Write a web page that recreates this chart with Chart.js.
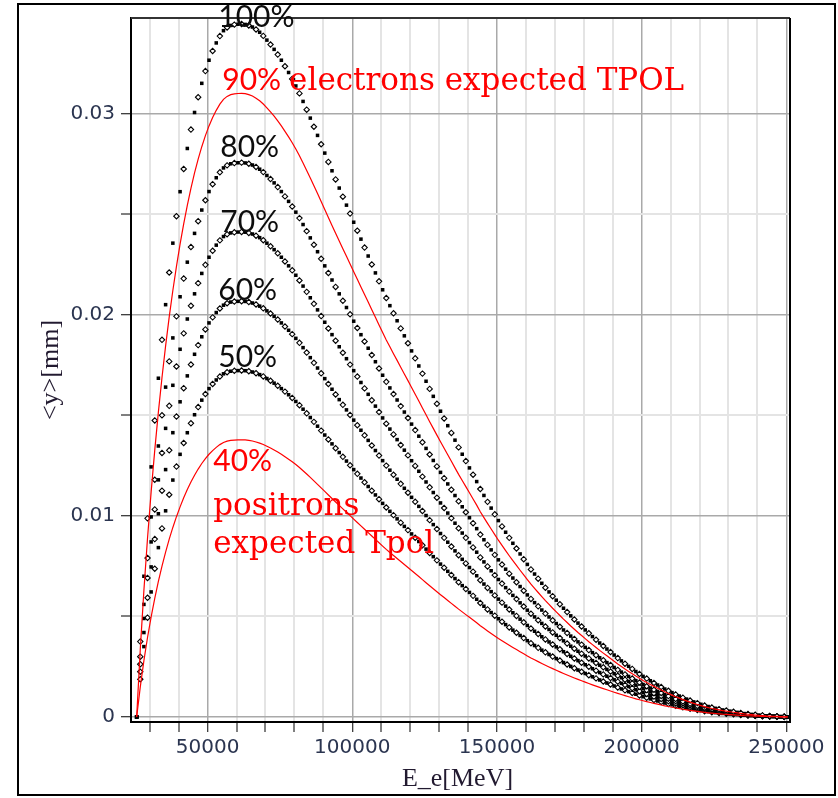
<!DOCTYPE html>
<html>
<head>
<meta charset="utf-8">
<title>Mean deflection vs beam energy</title>
<script src="https://cdn.jsdelivr.net/npm/chart.js@4.4.1/dist/chart.umd.min.js"></script>
<style>
  html, body { margin: 0; padding: 0; background: #fff; }
  #wrap { position: relative; width: 838px; height: 798px; }
  #c { position: absolute; left: 0; top: 0; }
  #frame { position: absolute; left: 17px; top: 3px; width: 819px; height: 793px;
           box-sizing: border-box; border: 2px solid #000; pointer-events: none; }
</style>
</head>
<body>
<div id="wrap">
  <canvas id="c" width="838" height="798"></canvas>
  <div id="frame"></div>
</div>
<script>
// Beam energy E_e [MeV] at each sample
const energies = [
  25500, 26750, 28000, 29250, 30500, 31750, 33000, 34250, 35500, 36750,
  38000, 39250, 40500, 41750, 43000, 44250, 45500, 46750, 48000, 49250,
  50500, 51750, 53000, 54250, 55500, 56750, 58000, 59250, 60500, 61750,
  63000, 64250, 65500, 66750, 68000, 69250, 70500, 71750, 73000, 74250,
  75500, 76750, 78000, 79250, 80500, 81750, 83000, 84250, 85500, 86750,
  88000, 89250, 90500, 91750, 93000, 94250, 95500, 96750, 98000, 99250,
  100500, 101750, 103000, 104250, 105500, 106750, 108000, 109250, 110500, 111750,
  113000, 114250, 115500, 116750, 118000, 119250, 120500, 121750, 123000, 124250,
  125500, 126750, 128000, 129250, 130500, 131750, 133000, 134250, 135500, 136750,
  138000, 139250, 140500, 141750, 143000, 144250, 145500, 146750, 148000, 149250,
  150500, 151750, 153000, 154250, 155500, 156750, 158000, 159250, 160500, 161750,
  163000, 164250, 165500, 166750, 168000, 169250, 170500, 171750, 173000, 174250,
  175500, 176750, 178000, 179250, 180500, 181750, 183000, 184250, 185500, 186750,
  188000, 189250, 190500, 191750, 193000, 194250, 195500, 196750, 198000, 199250,
  200500, 201750, 203000, 204250, 205500, 206750, 208000, 209250, 210500, 211750,
  213000, 214250, 215500, 216750, 218000, 219250, 220500, 221750, 223000, 224250,
  225500, 226750, 228000, 229250, 230500, 231750, 233000, 234250, 235500, 236750,
  238000, 239250, 240500, 241750, 243000, 244250, 245500, 246750, 248000, 249250,
  250500
];

// <y> [mm] at 100% polarization, one value per energy
const fullPolarization = [
  0.00000, 0.00375, 0.00700, 0.00988, 0.01244, 0.01475, 0.01685, 0.01876, 0.02051, 0.02211,
  0.02357, 0.02491, 0.02613, 0.02726, 0.02828, 0.02922, 0.03007, 0.03083, 0.03152, 0.03213,
  0.03267, 0.03313, 0.03353, 0.03387, 0.03414, 0.03430, 0.03440, 0.03444, 0.03446, 0.03447,
  0.03445, 0.03440, 0.03432, 0.03420, 0.03406, 0.03388, 0.03367, 0.03345, 0.03321, 0.03295,
  0.03267, 0.03237, 0.03206, 0.03174, 0.03139, 0.03102, 0.03062, 0.03021, 0.02979, 0.02936,
  0.02893, 0.02849, 0.02805, 0.02761, 0.02717, 0.02674, 0.02631, 0.02588, 0.02546, 0.02504,
  0.02461, 0.02419, 0.02377, 0.02335, 0.02293, 0.02251, 0.02209, 0.02167, 0.02125, 0.02084,
  0.02046, 0.02008, 0.01971, 0.01933, 0.01896, 0.01859, 0.01821, 0.01784, 0.01746, 0.01708,
  0.01670, 0.01632, 0.01595, 0.01558, 0.01521, 0.01485, 0.01449, 0.01413, 0.01377, 0.01341,
  0.01307, 0.01273, 0.01239, 0.01205, 0.01171, 0.01134, 0.01102, 0.01070, 0.01039, 0.01008,
  0.00977, 0.00948, 0.00919, 0.00891, 0.00864, 0.00838, 0.00811, 0.00785, 0.00759, 0.00734,
  0.00711, 0.00688, 0.00665, 0.00643, 0.00622, 0.00601, 0.00581, 0.00561, 0.00541, 0.00522,
  0.00503, 0.00485, 0.00467, 0.00450, 0.00433, 0.00416, 0.00400, 0.00384, 0.00368, 0.00353,
  0.00338, 0.00323, 0.00308, 0.00293, 0.00279, 0.00265, 0.00252, 0.00239, 0.00226, 0.00214,
  0.00202, 0.00191, 0.00180, 0.00169, 0.00159, 0.00149, 0.00139, 0.00130, 0.00121, 0.00112,
  0.00104, 0.00096, 0.00089, 0.00082, 0.00075, 0.00069, 0.00063, 0.00057, 0.00052, 0.00047,
  0.00043, 0.00039, 0.00035, 0.00032, 0.00029, 0.00026, 0.00023, 0.00020, 0.00017, 0.00015,
  0.00013, 0.00011, 0.00009, 0.00008, 0.00006, 0.00005, 0.00004, 0.00003, 0.00002, 0.00001,
  0.00000
];

// Polarization levels (percent): point-plotted ones and the expected-TPOL curves
const pointLevels = [100, 80, 70, 60, 50];
const expectedLevels = [90, 40];

// Tick positions (every tick gets a grid line) and the labelled ones
const xTickValues = [30000, 40000, 50000, 60000, 70000, 80000, 90000, 100000, 110000, 120000,
  130000, 140000, 150000, 160000, 170000, 180000, 190000, 200000, 210000, 220000,
  230000, 240000, 250000];
const xTickLabels = [50000, 100000, 150000, 200000, 250000];
const yTickValues = [0, 0.005, 0.01, 0.015, 0.02, 0.025, 0.03];
const yTickLabels = [0, 0.01, 0.02, 0.03];

const RED = '#ff0000';
const INK = '#0d0d0d';
const TICK_INK = '#2b3550';
const PERCENT_FONT = '30px Lato';
const CAPTION_FONT = '31px "DejaVu Serif"';
const TITLE_FONT = '26px "Liberation Serif"';

// Where each curve's label sits (data coordinates of the left end of the baseline)
const curveLabels = [
  { level: 100, x: 53700, y: 0.03434, color: INK },
  { level: 90,  x: 55080, y: 0.03121, color: RED, caption: 'electrons expected TPOL' },
  { level: 80,  x: 54390, y: 0.02788, color: INK },
  { level: 70,  x: 54390, y: 0.02410, color: INK },
  { level: 60,  x: 53700, y: 0.02072, color: INK },
  { level: 50,  x: 53700, y: 0.01739, color: INK },
  { level: 40,  x: 51970, y: 0.01222, color: RED,
    lines: [{ text: 'positrons', y: 0.01004 }, { text: 'expected Tpol', y: 0.00815 }] }
];

const scaled = level => energies.map((e, i) => ({ x: e, y: fullPolarization[i] * level / 100 }));

const datasets = [];
expectedLevels.forEach(level => datasets.push({
  label: level + '% expected',
  data: scaled(level),
  showLine: true,
  borderColor: RED,
  borderWidth: 1.2,
  pointRadius: 0,
  tension: 0,
  fill: false
}));
pointLevels.forEach(level => datasets.push({
  label: level + '%',
  data: scaled(level),
  showLine: false,
  pointStyle: c => (c.dataIndex % 2 ? 'rectRot' : 'rect'),
  pointRadius: c => (c.dataIndex % 2 ? 2.7 : 2.5),
  pointBackgroundColor: c => (c.dataIndex % 2 ? '#ffffff' : '#000000'),
  pointBorderColor: '#000000',
  pointBorderWidth: c => (c.dataIndex % 2 ? 1.1 : 0)
}));

const near = (list, v, eps) => list.some(t => Math.abs(t - v) < eps);
const isLabelledX = v => near(xTickLabels, v, 1e-6);
const isLabelledY = v => near(yTickLabels, v, 1e-9);

// Frame, curve labels and axis titles
const decorations = {
  id: 'decorations',
  afterDatasetsDraw(chart) {
    const { ctx, chartArea: a, scales: { x, y } } = chart;
    ctx.save();

    // top and right edges of the plot box
    ctx.lineWidth = 2;
    ctx.strokeStyle = '#333';
    ctx.beginPath();
    ctx.moveTo(a.left, a.top); ctx.lineTo(a.right, a.top);
    ctx.stroke();
    ctx.strokeStyle = '#000';
    ctx.beginPath();
    ctx.moveTo(a.right, a.top); ctx.lineTo(a.right, a.bottom + 1);
    ctx.stroke();

    ctx.textAlign = 'left';
    ctx.textBaseline = 'alphabetic';
    curveLabels.forEach(lab => {
      const px = x.getPixelForValue(lab.x);
      const py = y.getPixelForValue(lab.y);
      const pct = lab.level + '%';
      ctx.fillStyle = lab.color;
      ctx.font = PERCENT_FONT;
      ctx.fillText(pct, px, py);
      if (lab.caption) {
        const w = ctx.measureText(pct).width;
        ctx.font = CAPTION_FONT;
        ctx.fillText(lab.caption, px + w + 8, py);
      }
      if (lab.lines) {
        ctx.font = CAPTION_FONT;
        lab.lines.forEach(l => ctx.fillText(l.text, px, y.getPixelForValue(l.y)));
      }
    });

    // axis titles
    ctx.fillStyle = '#221a30';
    ctx.font = TITLE_FONT;
    ctx.textAlign = 'center';
    ctx.fillText('E_e[MeV]', (a.left + a.right) / 2 - 3, 786);
    ctx.translate(51, (a.top + a.bottom) / 2);
    ctx.rotate(-Math.PI / 2);
    ctx.textBaseline = 'middle';
    ctx.fillText('<y>[mm]', 0, 0);

    ctx.restore();
  }
};

const gridFor = isLabelled => ({
  color: c => (isLabelled(c.tick.value) ? '#a9a9a9' : '#e4e4e4'),
  lineWidth: c => (isLabelled(c.tick.value) ? 1.5 : 2),
  tickColor: '#000',
  tickWidth: 1,
  tickLength: 10
});

function build() {
  new Chart(document.getElementById('c'), {
    type: 'scatter',
    data: { datasets },
    options: {
      responsive: false,
      animation: false,
      events: [],
      layout: { padding: { left: 0, right: 48, top: 17, bottom: 0 } },
      plugins: { legend: { display: false }, tooltip: { enabled: false }, title: { display: false } },
      scales: {
        x: {
          type: 'linear',
          min: 23540,
          max: 251270,
          afterFit: s => { s.height = 76; },
          afterBuildTicks: s => { s.ticks = xTickValues.map(value => ({ value })); },
          border: { display: true, color: '#000', width: 2 },
          grid: gridFor(isLabelledX),
          ticks: {
            autoSkip: false,
            maxRotation: 0,
            padding: 4,
            color: TICK_INK,
            font: { family: '"DejaVu Sans"', size: 20 },
            callback: v => (isLabelledX(v) ? String(Math.round(v)) : '')
          }
        },
        y: {
          type: 'linear',
          min: -0.00025,
          max: 0.03477,
          afterFit: s => { s.width = 131; },
          afterBuildTicks: s => { s.ticks = yTickValues.map(value => ({ value })); },
          border: { display: true, color: '#000', width: 2 },
          grid: gridFor(isLabelledY),
          ticks: {
            autoSkip: false,
            padding: 6,
            color: TICK_INK,
            font: { family: '"DejaVu Sans"', size: 20 },
            callback: v => {
              if (!isLabelledY(v)) return '';
              return Math.abs(v) < 1e-9 ? '0' : v.toFixed(2);
            }
          }
        }
      }
    },
    plugins: [decorations]
  });
}

Promise.all([
  document.fonts.load(PERCENT_FONT),
  document.fonts.load(CAPTION_FONT),
  document.fonts.load(TITLE_FONT),
  document.fonts.load('20px "DejaVu Sans"')
]).then(build, build);
</script>
</body>
</html>
